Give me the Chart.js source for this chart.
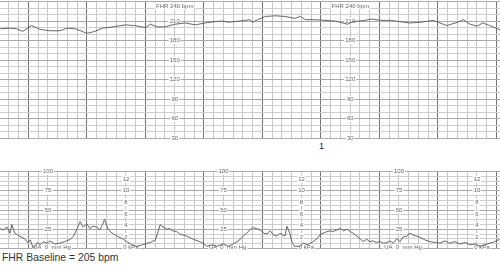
<!DOCTYPE html>
<html>
<head>
<meta charset="utf-8">
<script src="https://cdn.jsdelivr.net/npm/chart.js@4.4.0/dist/chart.umd.min.js"></script>
<style>
  body { margin: 0; background: #fff; width: 500px; height: 265px; position: relative; overflow: hidden; }
  canvas { position: absolute; left: 0; }
  #fhrChart { top: 0; }
  #uaChart { top: 168px; }
  .txt { position: absolute; font-family: "Liberation Sans", Arial, sans-serif; color: #333; white-space: nowrap; }
</style>
</head>
<body>
<canvas id="fhrChart" width="500" height="140"></canvas>
<canvas id="uaChart" width="500" height="84"></canvas>
<div class="txt" style="left:319px; top:141px; font-size:9px; color:#222;">1</div>
<div class="txt" style="left:2px; top:252px; font-size:10.4px;">FHR Baseline = 205 bpm</div>
<script>
  // FHR trace (time in seconds, bpm)
  const fhrTime = [-29, -19, -12, -6, 3, 12, 22, 32, 40, 48, 55, 60, 68, 76, 87, 99, 109, 120, 125, 132,
    140, 150, 161, 171, 181, 191, 199, 205, 217, 227, 230, 235, 243, 253, 263, 273, 279, 284, 294, 304,
    314, 320, 327, 333, 345, 352, 361, 371, 381, 391, 402, 415, 422, 429, 440, 446, 453, 460, 466, 473, 481, 484];
  const fhrBpm = [198, 199, 198, 194, 203, 197, 195, 195, 199, 198, 194, 191, 194, 199, 201, 204, 203, 200, 205, 201,
    201, 205, 207, 204, 207, 209, 210, 208, 210, 212, 208, 212, 217, 218, 217, 214, 217, 212, 212, 211,
    210, 208, 205, 209, 211, 213, 211, 211, 209, 207, 208, 211, 207, 203, 208, 212, 205, 202, 207, 203, 198, 196];

  // uterine activity (time in seconds, mmHg)
  const uaTime = [-29, -26, -22, -19, -17, -14, -9, -4, -1, 2, 5, 9, 12, 15, 19, 22, 27, 32, 37, 43,
    46, 50, 53, 56, 60, 63, 66, 70, 73, 76, 78, 82, 86, 91, 96, 101, 106, 111, 117, 125,
    130, 133, 135, 138, 142, 145, 148, 152, 155, 163, 169, 176, 179, 183, 189, 193, 200, 205, 210, 214,
    217, 222, 227, 230, 234, 238, 241, 245, 248, 251, 255, 258, 263, 265, 268, 270, 273, 278, 282, 286,
    289, 292, 296, 299, 304, 309, 312, 316, 320, 323, 327, 330, 333, 337, 340, 343, 347, 350, 353, 357,
    361, 364, 368, 371, 374, 378, 381, 384, 388, 391, 394, 398, 401, 407, 412, 417, 422, 427, 432, 437,
    443, 448, 453, 458, 463, 468, 473, 478, 483];
  const uaMmHg = [26, 24, 28, 20, 31, 20, 16, 13, 8, 11, 0, 8, 5, 9, 7, 10, 6, 7, 9, 12,
    16, 26, 35, 28, 32, 26, 29, 28, 24, 31, 38, 24, 20, 16, 13, 9, 5, 3, 5, 8,
    11, 22, 31, 28, 25, 26, 23, 22, 19, 16, 12, 9, 7, 3, 5, 3, 6, 3, 6, 9,
    12, 18, 24, 27, 26, 24, 20, 19, 23, 18, 16, 20, 16, 29, 20, 9, 3, 3, 7, 5,
    7, 9, 13, 18, 21, 23, 22, 24, 26, 23, 25, 22, 20, 16, 13, 9, 12, 9, 10, 8,
    9, 7, 8, 10, 7, 13, 9, 15, 16, 20, 18, 16, 15, 11, 9, 8, 7, 10, 7, 9,
    6, 8, 5, 6, 3, 5, 7, 9, 12];

  // printed scale labels
  const fhrTicks = [210, 180, 150, 120, 90, 60, 30];
  const uaTicks = [100, 75, 50, 25];
  const kpaTicks = [12, 10, 8, 6, 4, 2];
  const fhrLabelTimes = [150, 330];
  const mmHgLabelTimes = [20, 200, 380];
  const kpaLabelTimes = [100, 280, 460];

  const KPA = 7.50062;
  const T_MIN = -29.2, T_MAX = 483.6;
  const MAJOR = '#737373', MINOR = '#c6c6c6', HMAJOR = '#aaaaaa', HMINOR = '#cdcdcd';

  const paperLabels = {
    id: 'paperLabels',
    beforeDatasetsDraw(chart, args, opts) {
      const { ctx, scales: { x, y } } = chart;
      ctx.save();
      ctx.font = '6px "Liberation Sans", Arial, sans-serif';
      ctx.textAlign = 'center';
      ctx.textBaseline = 'middle';
      opts.items.forEach(it => {
        const px = x.getPixelForValue(it.t) + (it.dx || 0);
        const py = y.getPixelForValue(it.v);
        const w = ctx.measureText(it.text).width + 2;
        ctx.fillStyle = '#fff';
        ctx.fillRect(px - w / 2, py - 3.5, w, 7);
        ctx.fillStyle = '#666';
        ctx.fillText(it.text, px, py);
      });
      ctx.restore();
    }
  };

  function xScale() {
    return {
      type: 'linear', min: T_MIN, max: T_MAX,
      ticks: { display: false, stepSize: 10, includeBounds: false, maxTicksLimit: 1000 },
      grid: { drawTicks: false, color: c => (c.tick.value % 60 === 0 ? MAJOR : MINOR) },
      border: { display: false }
    };
  }

  const fhrItems = [];
  fhrLabelTimes.forEach(t => {
    fhrItems.push({ t, v: 233, text: 'FHR 240 bpm' });
    fhrTicks.forEach(v => fhrItems.push({ t, v, text: String(v) }));
  });

  new Chart(document.getElementById('fhrChart'), {
    type: 'line',
    data: {
      datasets: [{
        data: fhrTime.map((t, i) => ({ x: t, y: fhrBpm[i] })),
        borderColor: '#555', borderWidth: 0.9, pointRadius: 0, tension: 0
      }]
    },
    options: {
      responsive: false, animation: false, devicePixelRatio: 1,
      layout: { padding: { top: 1.5, bottom: 2, left: 0, right: 0 } },
      plugins: { legend: { display: false }, tooltip: { enabled: false }, paperLabels: { items: fhrItems } },
      scales: {
        x: xScale(),
        y: {
          min: 30, max: 240,
          ticks: { display: false, stepSize: 10 },
          grid: { drawTicks: false, color: c => (c.tick.value % 30 === 0 ? HMAJOR : HMINOR) },
          border: { display: false }
        }
      }
    },
    plugins: [paperLabels]
  });

  const uaItems = [];
  mmHgLabelTimes.forEach(t => {
    uaTicks.forEach(v => uaItems.push({ t, v, text: String(v) }));
    uaItems.push({ t, v: 1, text: 'UA  0  mm Hg', dx: 4 });
  });
  kpaLabelTimes.forEach(t => {
    kpaTicks.forEach(k => uaItems.push({ t, v: k * KPA, text: String(k) }));
    uaItems.push({ t, v: 1, text: '0 kPa', dx: 5 });
  });

  new Chart(document.getElementById('uaChart'), {
    type: 'line',
    data: {
      datasets: [{
        data: uaTime.map((t, i) => ({ x: t, y: uaMmHg[i] })),
        borderColor: '#555', borderWidth: 0.9, pointRadius: 0, tension: 0
      }]
    },
    options: {
      responsive: false, animation: false, devicePixelRatio: 1,
      layout: { padding: { top: 3.4, bottom: 3.4, left: 0, right: 0 } },
      plugins: { legend: { display: false }, tooltip: { enabled: false }, paperLabels: { items: uaItems } },
      scales: {
        x: xScale(),
        y: {
          min: 0, max: 100,
          ticks: { display: false, stepSize: 6.25 },
          grid: { drawTicks: false, color: c => (c.tick.value % 25 === 0 ? HMAJOR : HMINOR) },
          border: { display: false }
        }
      }
    },
    plugins: [paperLabels]
  });
</script>
</body>
</html>
